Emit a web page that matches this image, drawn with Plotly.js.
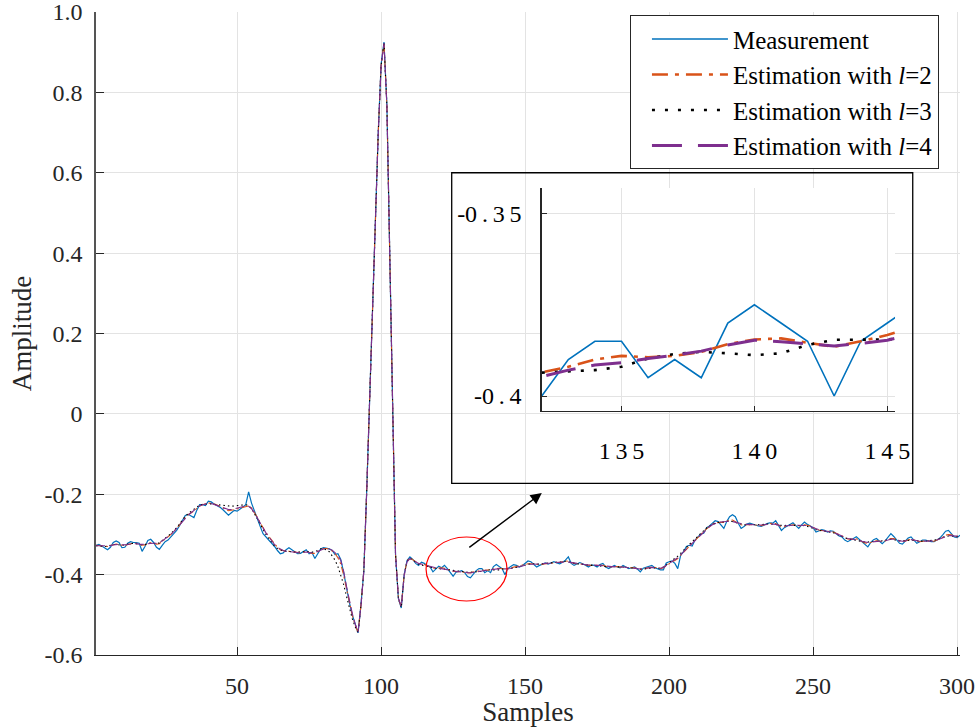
<!DOCTYPE html>
<html>
<head>
<meta charset="utf-8">
<script src="https://cdn.plot.ly/plotly-3.0.1.min.js"></script>
<style>
  html, body { margin: 0; padding: 0; background: #fff; }
  #chart { width: 978px; height: 727px; }
</style>
</head>
<body>
<div id="chart"></div>
<script>
// ECG segment: raw measurement and three estimates (window length l = 2, 3, 4)
const measurement = [
  -0.327,-0.325,-0.329,-0.334,-0.338,-0.332,-0.320,-0.316,-0.320,-0.333,
  -0.332,-0.322,-0.318,-0.320,-0.320,-0.322,-0.342,-0.330,-0.315,-0.312,
  -0.320,-0.332,-0.337,-0.327,-0.318,-0.314,-0.306,-0.298,-0.290,-0.278,
  -0.266,-0.253,-0.250,-0.254,-0.258,-0.240,-0.226,-0.226,-0.228,-0.217,
  -0.219,-0.224,-0.227,-0.232,-0.238,-0.244,-0.252,-0.246,-0.240,-0.242,
  -0.238,-0.232,-0.226,-0.194,-0.222,-0.243,-0.262,-0.280,-0.298,-0.306,
  -0.313,-0.320,-0.330,-0.340,-0.348,-0.346,-0.338,-0.333,-0.338,-0.344,
  -0.348,-0.347,-0.343,-0.338,-0.348,-0.345,-0.360,-0.346,-0.336,-0.333,
  -0.334,-0.336,-0.340,-0.350,-0.348,-0.362,-0.395,-0.435,-0.470,-0.500,
  -0.525,-0.545,-0.475,-0.390,-0.190,0.040,0.270,0.520,0.700,0.870,
  0.925,0.770,0.410,-0.010,-0.350,-0.460,-0.483,-0.400,-0.365,-0.356,
  -0.362,-0.372,-0.377,-0.369,-0.372,-0.378,-0.381,-0.393,-0.385,-0.379,
  -0.383,-0.377,-0.385,-0.395,-0.404,-0.394,-0.392,-0.390,-0.395,-0.405,
  -0.408,-0.400,-0.390,-0.385,-0.385,-0.395,-0.390,-0.395,-0.380,-0.375,
  -0.380,-0.385,-0.400,-0.385,-0.380,-0.375,-0.377,-0.381,-0.378,-0.373,
  -0.366,-0.368,-0.375,-0.381,-0.377,-0.373,-0.371,-0.374,-0.371,-0.368,
  -0.371,-0.373,-0.369,-0.364,-0.356,-0.372,-0.377,-0.373,-0.370,-0.373,
  -0.377,-0.381,-0.376,-0.377,-0.381,-0.375,-0.372,-0.381,-0.385,-0.381,
  -0.377,-0.381,-0.383,-0.377,-0.382,-0.385,-0.383,-0.381,-0.386,-0.393,
  -0.384,-0.381,-0.379,-0.377,-0.383,-0.386,-0.388,-0.388,-0.371,-0.368,
  -0.366,-0.372,-0.385,-0.352,-0.343,-0.330,-0.327,-0.329,-0.314,-0.306,
  -0.299,-0.297,-0.283,-0.279,-0.272,-0.266,-0.268,-0.276,-0.285,-0.268,
  -0.256,-0.251,-0.256,-0.272,-0.285,-0.280,-0.274,-0.272,-0.275,-0.277,
  -0.279,-0.280,-0.276,-0.273,-0.271,-0.272,-0.266,-0.278,-0.290,-0.283,
  -0.279,-0.274,-0.271,-0.278,-0.285,-0.276,-0.269,-0.275,-0.280,-0.283,
  -0.294,-0.290,-0.288,-0.290,-0.294,-0.291,-0.292,-0.298,-0.304,-0.306,
  -0.314,-0.318,-0.315,-0.310,-0.306,-0.312,-0.320,-0.325,-0.331,-0.320,
  -0.313,-0.310,-0.317,-0.323,-0.316,-0.307,-0.298,-0.305,-0.313,-0.322,
  -0.324,-0.316,-0.309,-0.306,-0.314,-0.322,-0.318,-0.314,-0.314,-0.316,
  -0.318,-0.318,-0.314,-0.309,-0.301,-0.292,-0.290,-0.298,-0.306,-0.308,
  -0.302
];

const estimateL2 = [
  -0.327,-0.328,-0.329,-0.330,-0.330,-0.328,-0.325,-0.324,-0.325,-0.327,
  -0.327,-0.325,-0.323,-0.322,-0.322,-0.324,-0.327,-0.326,-0.323,-0.321,
  -0.322,-0.324,-0.323,-0.318,-0.312,-0.306,-0.300,-0.293,-0.285,-0.276,
  -0.266,-0.257,-0.251,-0.247,-0.242,-0.235,-0.229,-0.226,-0.224,-0.222,
  -0.222,-0.224,-0.227,-0.230,-0.234,-0.238,-0.241,-0.240,-0.238,-0.237,
  -0.235,-0.232,-0.230,-0.229,-0.234,-0.244,-0.257,-0.271,-0.284,-0.295,
  -0.305,-0.315,-0.324,-0.332,-0.338,-0.341,-0.342,-0.342,-0.343,-0.345,
  -0.346,-0.346,-0.344,-0.343,-0.345,-0.347,-0.347,-0.343,-0.338,-0.335,
  -0.335,-0.337,-0.341,-0.348,-0.358,-0.374,-0.402,-0.438,-0.472,-0.501,
  -0.526,-0.544,-0.476,-0.390,-0.190,0.040,0.270,0.519,0.699,0.868,
  0.923,0.769,0.409,-0.011,-0.349,-0.459,-0.481,-0.401,-0.366,-0.358,
  -0.362,-0.368,-0.373,-0.373,-0.375,-0.378,-0.381,-0.384,-0.384,-0.383,
  -0.383,-0.384,-0.386,-0.389,-0.392,-0.393,-0.393,-0.393,-0.395,-0.396,
  -0.395,-0.3935,-0.392,-0.390,-0.389,-0.3894,-0.389,-0.3879,-0.3858,-0.3845,
  -0.3842,-0.3854,-0.3865,-0.385,-0.3833,-0.381,-0.380,-0.379,-0.377,-0.375,
  -0.373,-0.373,-0.374,-0.375,-0.375,-0.374,-0.373,-0.372,-0.371,-0.370,
  -0.370,-0.370,-0.368,-0.366,-0.367,-0.370,-0.372,-0.373,-0.373,-0.374,
  -0.376,-0.377,-0.377,-0.377,-0.377,-0.376,-0.377,-0.379,-0.381,-0.381,
  -0.380,-0.380,-0.381,-0.381,-0.382,-0.383,-0.383,-0.383,-0.385,-0.387,
  -0.386,-0.384,-0.382,-0.381,-0.382,-0.384,-0.385,-0.383,-0.378,-0.372,
  -0.368,-0.365,-0.360,-0.352,-0.344,-0.336,-0.329,-0.322,-0.315,-0.307,
  -0.300,-0.293,-0.286,-0.280,-0.275,-0.271,-0.270,-0.270,-0.270,-0.267,
  -0.264,-0.264,-0.267,-0.272,-0.276,-0.277,-0.276,-0.275,-0.276,-0.277,
  -0.278,-0.278,-0.276,-0.274,-0.273,-0.272,-0.273,-0.277,-0.281,-0.281,
  -0.279,-0.277,-0.276,-0.277,-0.279,-0.278,-0.276,-0.277,-0.279,-0.283,
  -0.287,-0.289,-0.290,-0.291,-0.292,-0.293,-0.294,-0.297,-0.301,-0.304,
  -0.308,-0.311,-0.312,-0.311,-0.311,-0.314,-0.318,-0.321,-0.322,-0.320,
  -0.317,-0.316,-0.317,-0.318,-0.316,-0.313,-0.310,-0.310,-0.313,-0.317,
  -0.318,-0.316,-0.313,-0.312,-0.314,-0.317,-0.318,-0.317,-0.316,-0.316,
  -0.317,-0.317,-0.314,-0.311,-0.307,-0.302,-0.300,-0.301,-0.304,-0.306,
  -0.305
];

const estimateL3 = [
  -0.328,-0.329,-0.329,-0.330,-0.329,-0.327,-0.325,-0.325,-0.326,-0.327,
  -0.326,-0.324,-0.323,-0.322,-0.323,-0.325,-0.326,-0.325,-0.322,-0.321,
  -0.322,-0.323,-0.321,-0.316,-0.310,-0.304,-0.298,-0.291,-0.283,-0.274,
  -0.264,-0.255,-0.248,-0.243,-0.238,-0.232,-0.227,-0.225,-0.224,-0.224,
  -0.224,-0.225,-0.226,-0.227,-0.228,-0.229,-0.230,-0.230,-0.229,-0.228,
  -0.227,-0.226,-0.226,-0.228,-0.236,-0.248,-0.262,-0.276,-0.289,-0.300,
  -0.310,-0.320,-0.329,-0.335,-0.339,-0.341,-0.342,-0.342,-0.343,-0.344,
  -0.344,-0.344,-0.343,-0.342,-0.343,-0.344,-0.343,-0.340,-0.336,-0.336,
  -0.338,-0.343,-0.352,-0.364,-0.380,-0.400,-0.425,-0.455,-0.485,-0.510,
  -0.530,-0.545,-0.477,-0.391,-0.191,0.039,0.269,0.519,0.699,0.867,
  0.924,0.769,0.409,-0.011,-0.349,-0.459,-0.482,-0.402,-0.367,-0.359,
  -0.364,-0.370,-0.374,-0.376,-0.378,-0.380,-0.382,-0.383,-0.384,-0.385,
  -0.386,-0.387,-0.388,-0.389,-0.390,-0.391,-0.392,-0.393,-0.394,-0.394,
  -0.394,-0.3936,-0.3933,-0.3929,-0.392,-0.3897,-0.3885,-0.3879,-0.3883,-0.3888,
  -0.3883,-0.386,-0.3846,-0.3845,-0.3845,-0.384,-0.382,-0.380,-0.378,-0.376,
  -0.374,-0.373,-0.373,-0.374,-0.374,-0.373,-0.372,-0.371,-0.370,-0.369,
  -0.369,-0.369,-0.368,-0.367,-0.368,-0.370,-0.372,-0.373,-0.374,-0.375,
  -0.376,-0.377,-0.377,-0.377,-0.378,-0.378,-0.379,-0.380,-0.380,-0.380,
  -0.380,-0.381,-0.381,-0.381,-0.382,-0.383,-0.384,-0.384,-0.385,-0.386,
  -0.386,-0.385,-0.384,-0.383,-0.383,-0.384,-0.384,-0.381,-0.376,-0.370,
  -0.365,-0.360,-0.354,-0.347,-0.339,-0.332,-0.325,-0.318,-0.311,-0.304,
  -0.297,-0.290,-0.284,-0.279,-0.275,-0.272,-0.270,-0.269,-0.268,-0.267,
  -0.267,-0.268,-0.270,-0.273,-0.275,-0.276,-0.276,-0.275,-0.275,-0.276,
  -0.276,-0.276,-0.275,-0.274,-0.274,-0.274,-0.275,-0.277,-0.278,-0.278,
  -0.277,-0.277,-0.277,-0.277,-0.277,-0.277,-0.278,-0.280,-0.282,-0.285,
  -0.288,-0.290,-0.291,-0.292,-0.293,-0.294,-0.296,-0.299,-0.302,-0.306,
  -0.309,-0.311,-0.312,-0.313,-0.314,-0.316,-0.318,-0.319,-0.319,-0.318,
  -0.317,-0.317,-0.317,-0.316,-0.315,-0.313,-0.312,-0.313,-0.315,-0.316,
  -0.316,-0.315,-0.314,-0.314,-0.315,-0.316,-0.317,-0.317,-0.317,-0.316,
  -0.316,-0.315,-0.313,-0.310,-0.307,-0.305,-0.304,-0.304,-0.305,-0.305,
  -0.305
];

const estimateL4 = [
  -0.328,-0.328,-0.328,-0.329,-0.329,-0.328,-0.326,-0.325,-0.325,-0.326,
  -0.326,-0.325,-0.324,-0.323,-0.323,-0.324,-0.325,-0.325,-0.323,-0.322,
  -0.322,-0.322,-0.320,-0.316,-0.311,-0.306,-0.300,-0.293,-0.285,-0.277,
  -0.268,-0.259,-0.252,-0.246,-0.240,-0.234,-0.229,-0.226,-0.224,-0.223,
  -0.223,-0.225,-0.227,-0.230,-0.233,-0.236,-0.238,-0.238,-0.236,-0.234,
  -0.232,-0.230,-0.229,-0.230,-0.236,-0.246,-0.259,-0.272,-0.285,-0.296,
  -0.306,-0.316,-0.325,-0.332,-0.337,-0.340,-0.342,-0.343,-0.344,-0.345,
  -0.345,-0.345,-0.344,-0.344,-0.345,-0.346,-0.345,-0.342,-0.338,-0.336,
  -0.335,-0.336,-0.339,-0.345,-0.352,-0.365,-0.392,-0.430,-0.466,-0.497,
  -0.523,-0.543,-0.478,-0.392,-0.192,0.038,0.268,0.518,0.698,0.866,
  0.922,0.768,0.408,-0.012,-0.348,-0.458,-0.480,-0.402,-0.368,-0.360,
  -0.363,-0.368,-0.372,-0.374,-0.376,-0.378,-0.380,-0.382,-0.383,-0.384,
  -0.385,-0.386,-0.387,-0.389,-0.391,-0.392,-0.393,-0.394,-0.395,-0.396,
  -0.396,-0.3947,-0.3929,-0.3915,-0.3909,-0.3897,-0.3888,-0.3877,-0.386,-0.3847,
  -0.3851,-0.3858,-0.3863,-0.3856,-0.3847,-0.383,-0.382,-0.380,-0.378,-0.376,
  -0.375,-0.374,-0.374,-0.374,-0.374,-0.373,-0.372,-0.372,-0.371,-0.370,
  -0.370,-0.370,-0.369,-0.368,-0.369,-0.371,-0.372,-0.373,-0.373,-0.374,
  -0.375,-0.376,-0.376,-0.377,-0.377,-0.377,-0.378,-0.379,-0.380,-0.380,
  -0.380,-0.381,-0.381,-0.381,-0.382,-0.383,-0.383,-0.384,-0.385,-0.386,
  -0.385,-0.384,-0.383,-0.382,-0.383,-0.384,-0.384,-0.382,-0.377,-0.372,
  -0.368,-0.364,-0.358,-0.351,-0.343,-0.336,-0.329,-0.322,-0.315,-0.308,
  -0.301,-0.294,-0.287,-0.281,-0.276,-0.272,-0.270,-0.269,-0.268,-0.267,
  -0.267,-0.268,-0.270,-0.272,-0.274,-0.275,-0.275,-0.275,-0.276,-0.276,
  -0.277,-0.277,-0.276,-0.275,-0.274,-0.274,-0.275,-0.277,-0.279,-0.279,
  -0.278,-0.277,-0.277,-0.277,-0.277,-0.277,-0.277,-0.278,-0.280,-0.283,
  -0.286,-0.288,-0.290,-0.291,-0.292,-0.293,-0.295,-0.298,-0.301,-0.304,
  -0.307,-0.310,-0.311,-0.312,-0.313,-0.315,-0.317,-0.319,-0.320,-0.319,
  -0.318,-0.317,-0.317,-0.317,-0.316,-0.314,-0.312,-0.312,-0.314,-0.316,
  -0.317,-0.316,-0.314,-0.313,-0.314,-0.316,-0.317,-0.317,-0.317,-0.317,
  -0.317,-0.316,-0.314,-0.311,-0.308,-0.305,-0.303,-0.303,-0.304,-0.305,
  -0.305
];

// sample index 1..N
const samples = measurement.map((_, i) => i + 1);

// tick labels
const mainYTicks  = [1.0, 0.8, 0.6, 0.4, 0.2, 0, -0.2, -0.4, -0.6];
const mainYLabels = ['1.0', '0.8', '0.6', '0.4', '0.2', '0', '-0.2', '-0.4', '-0.6'];
const mainXTicks  = [50, 100, 150, 200, 250, 300];
const mainXLabels = ['50', '100', '150', '200', '250', '300'];
const insetXTicks  = [135, 140, 145];
const insetXLabels = ['1\u20093\u20095', '1\u20094\u20090', '1\u20094\u20095'];
const insetYTicks  = [-0.4, -0.35];
const insetYLabels = ['-0\u2009.\u20094', '-0\u2009.\u20093\u20095'];

const seriesNames = ['Measurement', 'Estimation with <i>l</i>=2', 'Estimation with <i>l</i>=3', 'Estimation with <i>l</i>=4'];
const seriesValues = [measurement, estimateL2, estimateL3, estimateL4];
const seriesColors = ['#0072BD', '#D95319', '#000000', '#7E2F8E'];

const SERIF = 'Liberation Serif';
const AXIS_COLOR = '#262626';

const mainStyles = [
  { width: 1.2, dash: 'solid' },
  { width: 1.1, dash: '7px,3px,2px,3px' },
  { width: 1.1, dash: '1.5px,3px' },
  { width: 1.1, dash: '9px,4px' }
];
const insetStyles = [
  { width: 1.6, dash: 'solid' },
  { width: 2.6, dash: '16px,7px,4px,7px' },
  { width: 2.6, dash: '3px,10px' },
  { width: 3.0, dash: '30px,16px' }
];

const traces = [];
// zoomed inset traces (these carry the legend entries)
seriesValues.forEach((vals, k) => {
  traces.push({
    x: samples, y: vals, xaxis: 'x2', yaxis: 'y2',
    type: 'scatter', mode: 'lines', name: seriesNames[k],
    line: { color: seriesColors[k], width: insetStyles[k].width, dash: insetStyles[k].dash },
    showlegend: true, hoverinfo: 'skip'
  });
});
// full-length traces
seriesValues.forEach((vals, k) => {
  traces.push({
    x: samples, y: vals, xaxis: 'x', yaxis: 'y',
    type: 'scatter', mode: 'lines', name: seriesNames[k],
    line: { color: seriesColors[k], width: mainStyles[k].width, dash: mainStyles[k].dash },
    showlegend: false, hoverinfo: 'skip'
  });
});

const layout = {
  width: 978, height: 727,
  margin: { l: 96, r: 18, t: 12, b: 72 },
  paper_bgcolor: '#ffffff', plot_bgcolor: '#ffffff',
  font: { family: SERIF, size: 24, color: AXIS_COLOR },
  showlegend: true,
  legend: {
    x: 0.618, y: 0.995, xanchor: 'left', yanchor: 'top',
    bgcolor: '#ffffff', bordercolor: '#262626', borderwidth: 1,
    font: { family: SERIF, size: 25, color: '#000000' },
    itemwidth: 76, indentation: 16, tracegroupgap: 0
  },
  xaxis: {
    domain: [0, 1], range: [1, 301], tickvals: mainXTicks, ticktext: mainXLabels,
    showgrid: true, gridcolor: '#e3e3e3', gridwidth: 1, zeroline: false,
    showline: true, linecolor: AXIS_COLOR, linewidth: 1.2, mirror: false,
    ticks: 'inside', ticklen: 8, tickcolor: AXIS_COLOR, tickwidth: 1,
    ticklabelstandoff: 9, ticklabeloverflow: 'allow',
    tickfont: { family: SERIF, size: 24, color: AXIS_COLOR },
    title: { text: 'Samples', font: { family: SERIF, size: 27, color: AXIS_COLOR }, standoff: 2 }
  },
  yaxis: {
    domain: [0, 1], range: [-0.6, 1.0], tickvals: mainYTicks, ticktext: mainYLabels,
    showgrid: true, gridcolor: '#e3e3e3', gridwidth: 1, zeroline: false,
    showline: true, linecolor: '#555555', linewidth: 1.6, mirror: false,
    ticks: 'inside', ticklen: 8, tickcolor: AXIS_COLOR, tickwidth: 1,
    ticklabelstandoff: 7, ticklabeloverflow: 'allow',
    tickfont: { family: SERIF, size: 24, color: AXIS_COLOR },
    title: { text: 'Amplitude', font: { family: SERIF, size: 27, color: AXIS_COLOR }, standoff: 5 }
  },
  xaxis2: {
    domain: [0.5159, 0.9248], range: [132, 145.29], anchor: 'y2',
    tickvals: insetXTicks, ticktext: insetXLabels,
    showgrid: true, gridcolor: '#e3e3e3', gridwidth: 1, zeroline: false,
    showline: true, linecolor: AXIS_COLOR, linewidth: 1.4, mirror: false,
    ticks: 'inside', ticklen: 5, tickcolor: AXIS_COLOR, tickwidth: 1,
    ticklabelstandoff: 18, ticklabeloverflow: 'allow',
    tickfont: { family: SERIF, size: 24, color: '#000000' }
  },
  yaxis2: {
    domain: [0.3795, 0.7263], range: [-0.4041, -0.343], anchor: 'x2',
    tickvals: insetYTicks, ticktext: insetYLabels,
    showgrid: true, gridcolor: '#e3e3e3', gridwidth: 1, zeroline: false,
    showline: true, linecolor: AXIS_COLOR, linewidth: 1.4, mirror: false,
    ticks: 'inside', ticklen: 5, tickcolor: AXIS_COLOR, tickwidth: 1,
    ticklabelstandoff: 14, ticklabeloverflow: 'allow',
    tickfont: { family: SERIF, size: 24, color: '#000000' }
  },
  shapes: [
    // frame around the zoomed view
    { type: 'rect', xref: 'paper', yref: 'paper', x0: 0.4117, x1: 0.9453, y0: 0.267, y1: 0.750,
      line: { color: '#000000', width: 1.3 }, fillcolor: 'rgba(0,0,0,0)', layer: 'above' },
    // region that is magnified
    { type: 'circle', xref: 'x', yref: 'y', x0: 115.6, x1: 143.7, y0: -0.4656, y1: -0.3064,
      line: { color: '#ff0000', width: 1.2 }, layer: 'above' }
  ],
  annotations: [
    { xref: 'x', yref: 'y', axref: 'x', ayref: 'y', x: 155.8, y: -0.197, ax: 130.1, ay: -0.335,
      text: '', showarrow: true, arrowhead: 2, arrowsize: 1.6, arrowwidth: 1.4, arrowcolor: '#000000' }
  ]
};

Plotly.newPlot('chart', traces, layout, { displayModeBar: false, staticPlot: true });
</script>
</body>
</html>
